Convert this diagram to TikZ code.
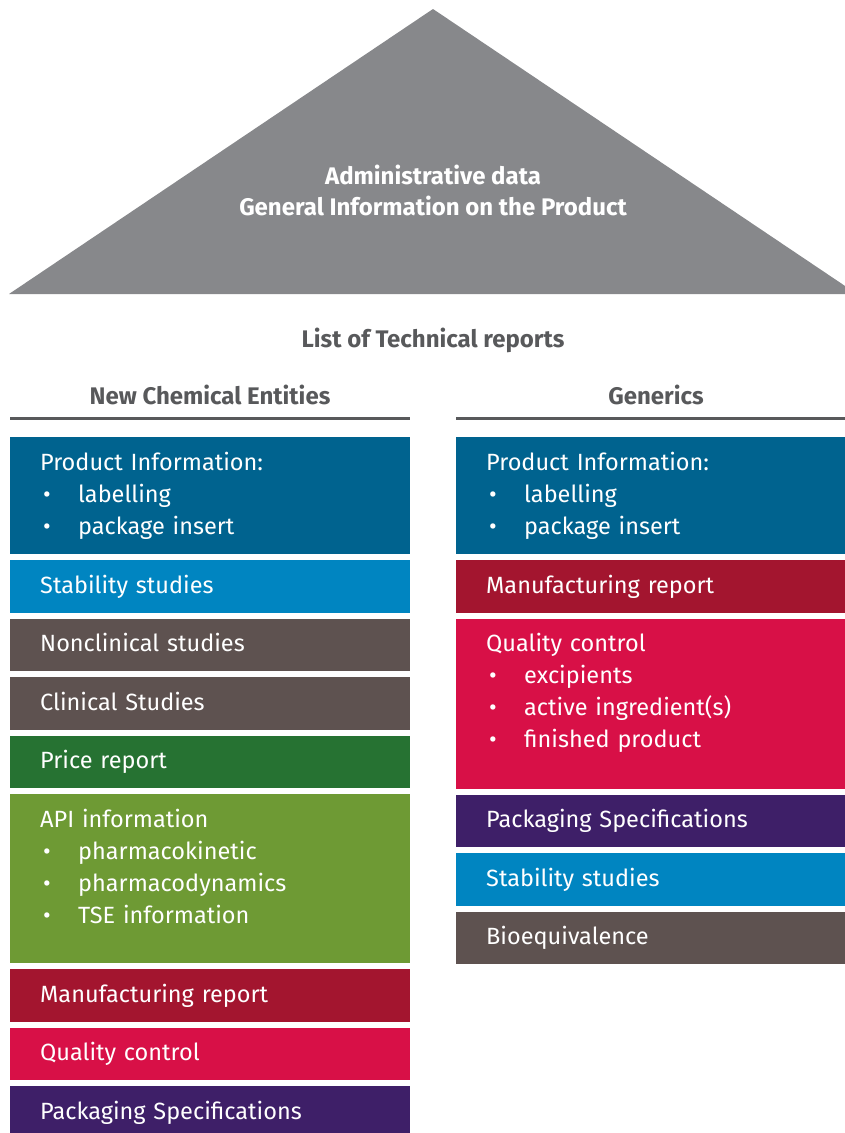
\documentclass[tikz,border=0pt]{standalone}
\usepackage{fontspec}
\setmainfont{Fira Sans}
\usetikzlibrary{positioning}

\definecolor{techo}{HTML}{87888B}
\definecolor{cabecera}{HTML}{58595B}
\definecolor{azul}{HTML}{00638F}
\definecolor{celeste}{HTML}{0085C1}
\definecolor{marron}{HTML}{5E5250}
\definecolor{verde}{HTML}{267232}
\definecolor{oliva}{HTML}{6E9A34}
\definecolor{granate}{HTML}{A3152F}
\definecolor{rojo}{HTML}{D81047}
\definecolor{morado}{HTML}{3E1F68}

\newcommand{\punto}[1]{\makebox[38pt][l]{\hspace{3pt}\textbullet}#1}

\begin{document}
\begin{tikzpicture}[x=1pt, y=-1pt,
    caja/.style={fill=#1, draw=none, inner sep=0pt, outer sep=0pt, minimum width=400pt},
    texto/.style={anchor=base west, inner sep=0pt, text=white, align=left, text width=380pt,
      font=\fontsize{23.5}{32}\selectfont},
    titulo/.style={text=cabecera, inner sep=0pt, font=\bfseries\fontsize{24}{28}\selectfont},
    regla/.style={draw=cabecera, line width=3pt}]
  \useasboundingbox (0,0) rectangle (845,1133);
  \clip (0,0) rectangle (845,1133);

  % Techo
  \fill[techo] (433,9) -- (857,294) -- (9,294) -- cycle;
  \node[text=white, align=center, inner sep=0pt, font=\bfseries\fontsize{24}{31}\selectfont]
    (adm) at (433,190) {Administrative data\\General Information on the Product};

  % Cabeceras
  \node[titulo] (lista) at (433,340) {List of Technical reports};
  \node[titulo] (nce) at (210,395) {New Chemical Entities};
  \node[titulo] (gen) at (656,395) {Generics};
  \draw[regla] (10,418.5) -- (410,418.5);
  \draw[regla] (456,418.5) -- (857,418.5);

  % Columna izquierda
  \node[caja=azul, minimum height=117pt, anchor=north west] (n1) at (10,437) {};
  \node[caja=celeste, minimum height=52.5pt, below=6pt of n1] (n2) {};
  \node[caja=marron, minimum height=52.5pt, below=6pt of n2] (n3) {};
  \node[caja=marron, minimum height=52.5pt, below=6pt of n3] (n4) {};
  \node[caja=verde, minimum height=52.5pt, below=6pt of n4] (n5) {};
  \node[caja=oliva, minimum height=169pt, below=6pt of n5] (n6) {};
  \node[caja=granate, minimum height=52.5pt, below=6pt of n6] (n7) {};
  \node[caja=rojo, minimum height=52.5pt, below=6pt of n7] (n8) {};
  \node[caja=morado, minimum height=52.5pt, below=6pt of n8] (n9) {};

  \node[texto] at ([xshift=30pt,yshift=-33pt]n1.north west)
    {Product Information:\\\punto{labelling}\\\punto{package insert}};
  \node[texto] at ([xshift=30pt,yshift=-33pt]n2.north west) {Stability studies};
  \node[texto] at ([xshift=30pt,yshift=-33pt]n3.north west) {Nonclinical studies};
  \node[texto] at ([xshift=30pt,yshift=-33pt]n4.north west) {Clinical Studies};
  \node[texto] at ([xshift=30pt,yshift=-33pt]n5.north west) {Price report};
  \node[texto] at ([xshift=30pt,yshift=-33pt]n6.north west)
    {API information\\\punto{pharmacokinetic}\\\punto{pharmacodynamics}\\\punto{TSE information}};
  \node[texto] at ([xshift=30pt,yshift=-33pt]n7.north west) {Manufacturing report};
  \node[texto] at ([xshift=30pt,yshift=-33pt]n8.north west) {Quality control};
  \node[texto] at ([xshift=30pt,yshift=-33pt]n9.north west) {Packaging Specifications};

  % Columna derecha
  \node[caja=azul, minimum height=117pt, anchor=north west] (g1) at (456,437) {};
  \node[caja=granate, minimum height=52.5pt, below=6pt of g1] (g2) {};
  \node[caja=rojo, minimum height=170pt, below=6pt of g2] (g3) {};
  \node[caja=morado, minimum height=52.5pt, below=6pt of g3] (g4) {};
  \node[caja=celeste, minimum height=52.5pt, below=6pt of g4] (g5) {};
  \node[caja=marron, minimum height=52.5pt, below=6pt of g5] (g6) {};

  \node[texto] at ([xshift=30pt,yshift=-33pt]g1.north west)
    {Product Information:\\\punto{labelling}\\\punto{package insert}};
  \node[texto] at ([xshift=30pt,yshift=-33pt]g2.north west) {Manufacturing report};
  \node[texto] at ([xshift=30pt,yshift=-33pt]g3.north west)
    {Quality control\\\punto{excipients}\\\punto{active ingredient(s)}\\\punto{finished product}};
  \node[texto] at ([xshift=30pt,yshift=-33pt]g4.north west) {Packaging Specifications};
  \node[texto] at ([xshift=30pt,yshift=-33pt]g5.north west) {Stability studies};
  \node[texto] at ([xshift=30pt,yshift=-33pt]g6.north west) {Bioequivalence};
\end{tikzpicture}
\end{document}
